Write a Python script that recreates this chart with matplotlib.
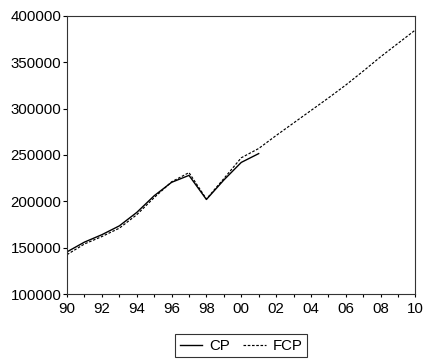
import matplotlib
matplotlib.use("Agg")
import matplotlib.pyplot as plt
from matplotlib.ticker import MultipleLocator, FixedLocator

# data
years_cp = list(range(1990, 2002))
cp = [145500, 156000, 164000, 173500, 188000, 206000, 220500, 228000, 202000, 223000, 242000, 251500]
years_fcp = list(range(1990, 2011))
fcp = [142500, 154000, 162000, 171000, 185500, 204000, 221000, 231000, 202500, 224500,
       247000, 257000, 271000, 284500, 298000, 311500, 325500, 340500, 356000, 370500, 385000]
x_major = list(range(1990, 2011, 2))
x_labels = ["90", "92", "94", "96", "98", "00", "02", "04", "06", "08", "10"]
y_ticks = [100000, 150000, 200000, 250000, 300000, 350000, 400000]

plt.rcParams['font.family'] = ['Liberation Sans', 'DejaVu Sans']
fig = plt.figure(figsize=(4.27, 3.6), dpi=100)
ax = fig.add_axes([0.157, 0.1833, 0.816, 0.7723])

ax.plot(years_cp, cp, color='black', lw=1.0, label='CP')
ax.plot(years_fcp, fcp, color='black', lw=0.85, linestyle=(0, (2.2, 1.4)), label='FCP')

ax.set_xlim(1990, 2010)
ax.set_ylim(100000, 400000)
ax.xaxis.set_major_locator(FixedLocator(x_major))
ax.set_xticklabels(x_labels)
ax.xaxis.set_minor_locator(MultipleLocator(1))
ax.set_yticks(y_ticks)
ax.set_yticklabels([str(v) for v in y_ticks])

ax.tick_params(axis='both', which='both', direction='out', length=3, width=0.8,
               labelsize=10.8, pad=1.0, colors='black')
ax.tick_params(axis='x', which='both', length=2.5)
ax.tick_params(axis='x', which='major', pad=3.5)
for s in ax.spines.values():
    s.set_linewidth(0.8)
    s.set_color('#333333')

leg = ax.legend(loc='upper center', bbox_to_anchor=(0.5, -0.145), ncol=2,
                frameon=True, fancybox=False, fontsize=10.8, handlelength=1.5,
                handletextpad=0.45, columnspacing=0.9, borderpad=0.3,
                borderaxespad=0)
leg.get_frame().set_edgecolor('black')
leg.get_frame().set_linewidth(0.8)

fig.savefig('out.png', dpi=100)
